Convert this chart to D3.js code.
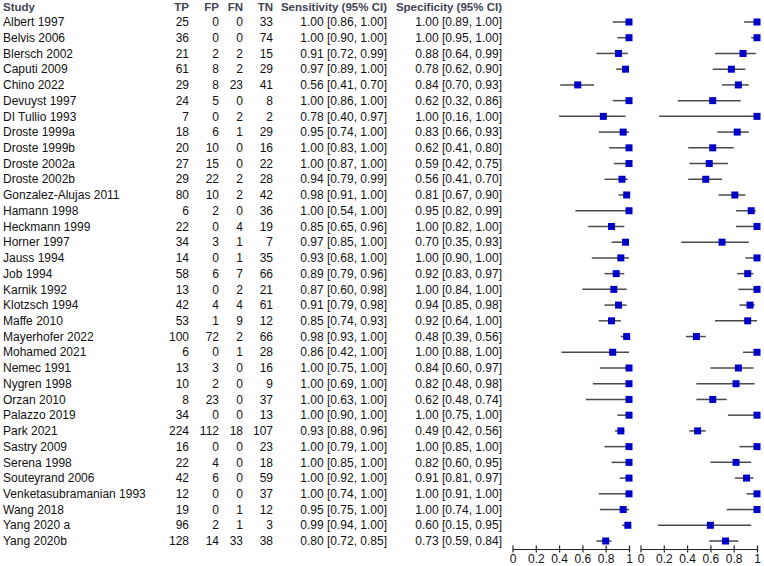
<!DOCTYPE html>
<meta charset="utf-8">
<style>
  html, body { margin: 0; padding: 0; background: #fff; }
  text { font-family: "Liberation Sans", Arial, sans-serif; }
</style>
<body>
<svg id="forest" width="764" height="566"></svg>
<script src="https://cdnjs.cloudflare.com/ajax/libs/d3/7.8.5/d3.min.js"></script>
<script>
  var studies = ["Albert 1997", "Belvis 2006", "Blersch 2002", "Caputi 2009", "Chino 2022",
    "Devuyst 1997", "DI Tullio 1993", "Droste 1999a", "Droste 1999b", "Droste 2002a",
    "Droste 2002b", "Gonzalez-Alujas 2011", "Hamann 1998", "Heckmann 1999", "Horner 1997",
    "Jauss 1994", "Job 1994", "Karnik 1992", "Klotzsch 1994", "Maffe 2010",
    "Mayerhofer 2022", "Mohamed 2021", "Nemec 1991", "Nygren 1998", "Orzan 2010",
    "Palazzo 2019", "Park 2021", "Sastry 2009", "Serena 1998", "Souteyrand 2006",
    "Venketasubramanian 1993", "Wang 2018", "Yang 2020 a", "Yang 2020b"];

  var tp = [25, 36, 21, 61, 29, 24, 7, 18, 20, 27, 29, 80, 6, 22, 34, 14, 58, 13, 42, 53,
    100, 6, 13, 10, 8, 34, 224, 16, 22, 42, 12, 19, 96, 128];
  var fp = [0, 0, 2, 8, 8, 5, 0, 6, 10, 15, 22, 10, 2, 0, 3, 0, 6, 0, 4, 1,
    72, 0, 3, 2, 23, 0, 112, 0, 4, 6, 0, 0, 2, 14];
  var fn = [0, 0, 2, 2, 23, 0, 2, 1, 0, 0, 2, 2, 0, 4, 1, 1, 7, 2, 4, 9,
    2, 1, 0, 0, 0, 0, 18, 0, 0, 0, 0, 1, 1, 33];
  var tn = [33, 74, 15, 29, 41, 8, 2, 29, 16, 22, 28, 42, 36, 19, 7, 35, 66, 21, 61, 12,
    66, 28, 16, 9, 37, 13, 107, 23, 18, 59, 37, 12, 3, 38];

  var sens = [1.00, 1.00, 0.91, 0.97, 0.56, 1.00, 0.78, 0.95, 1.00, 1.00, 0.94, 0.98, 1.00, 0.85,
    0.97, 0.93, 0.89, 0.87, 0.91, 0.85, 0.98, 0.86, 1.00, 1.00, 1.00, 1.00, 0.93, 1.00,
    1.00, 1.00, 1.00, 0.95, 0.99, 0.80];
  var sensLo = [0.86, 0.90, 0.72, 0.89, 0.41, 0.86, 0.40, 0.74, 0.83, 0.87, 0.79, 0.91, 0.54, 0.65,
    0.85, 0.68, 0.79, 0.60, 0.79, 0.74, 0.93, 0.42, 0.75, 0.69, 0.63, 0.90, 0.88, 0.79,
    0.85, 0.92, 0.74, 0.75, 0.94, 0.72];
  var sensHi = [1.00, 1.00, 0.99, 1.00, 0.70, 1.00, 0.97, 1.00, 1.00, 1.00, 0.99, 1.00, 1.00, 0.96,
    1.00, 1.00, 0.96, 0.98, 0.98, 0.93, 1.00, 1.00, 1.00, 1.00, 1.00, 1.00, 0.96, 1.00,
    1.00, 1.00, 1.00, 1.00, 1.00, 0.85];

  var spec = [1.00, 1.00, 0.88, 0.78, 0.84, 0.62, 1.00, 0.83, 0.62, 0.59, 0.56, 0.81, 0.95, 1.00,
    0.70, 1.00, 0.92, 1.00, 0.94, 0.92, 0.48, 1.00, 0.84, 0.82, 0.62, 1.00, 0.49, 1.00,
    0.82, 0.91, 1.00, 1.00, 0.60, 0.73];
  var specLo = [0.89, 0.95, 0.64, 0.62, 0.70, 0.32, 0.16, 0.66, 0.41, 0.42, 0.41, 0.67, 0.82, 0.82,
    0.35, 0.90, 0.83, 0.84, 0.85, 0.64, 0.39, 0.88, 0.60, 0.48, 0.48, 0.75, 0.42, 0.85,
    0.60, 0.81, 0.91, 0.74, 0.15, 0.59];
  var specHi = [1.00, 1.00, 0.99, 0.90, 0.93, 0.86, 1.00, 0.93, 0.80, 0.75, 0.70, 0.90, 0.99, 1.00,
    0.93, 1.00, 0.97, 1.00, 0.98, 1.00, 0.56, 1.00, 0.97, 0.98, 0.74, 1.00, 0.56, 1.00,
    0.95, 0.97, 1.00, 1.00, 0.95, 0.84];

  var ticks = [0, 0.2, 0.4, 0.6, 0.8, 1];

  var svg = d3.select("#forest");
  var headColor = "#3f4452";
  var f2 = d3.format(".2f");

  var y = d3.scalePoint().domain(studies).range([22, 541]);
  var xSens = d3.scaleLinear().domain([0, 1]).range([512.5, 629]);
  var xSpec = d3.scaleLinear().domain([0, 1]).range([640.5, 757]);
  var axisY = 549;

  // table columns
  var cols = [
    {head: "Study", x: 3, anchor: "start", val: function (i) { return studies[i]; }},
    {head: "TP", x: 189, anchor: "end", val: function (i) { return tp[i]; }},
    {head: "FP", x: 219, anchor: "end", val: function (i) { return fp[i]; }},
    {head: "FN", x: 243, anchor: "end", val: function (i) { return fn[i]; }},
    {head: "TN", x: 273, anchor: "end", val: function (i) { return tn[i]; }},
    {head: "Sensitivity (95% CI)", x: 387, anchor: "end",
      val: function (i) { return f2(sens[i]) + " [" + f2(sensLo[i]) + ", " + f2(sensHi[i]) + "]"; }},
    {head: "Specificity (95% CI)", x: 502, anchor: "end",
      val: function (i) { return f2(spec[i]) + " [" + f2(specLo[i]) + ", " + f2(specHi[i]) + "]"; }}
  ];

  cols.forEach(function (c) {
    svg.append("text")
      .attr("x", c.x).attr("y", 7)
      .attr("dy", "0.35em")
      .attr("text-anchor", c.anchor)
      .attr("font-size", 11.5)
      .attr("font-weight", "bold")
      .attr("fill", headColor)
      .text(c.head);

    svg.append("g").selectAll("text")
      .data(studies)
      .enter().append("text")
      .attr("x", c.x)
      .attr("y", function (d) { return y(d); })
      .attr("dy", "0.35em")
      .attr("text-anchor", c.anchor)
      .attr("font-size", 12)
      .attr("fill", "#111")
      .text(function (d, i) { return c.val(i); });
  });

  // plot panels
  function panel(x, est, lo, hi) {
    var g = svg.append("g");
    g.selectAll("line.ci")
      .data(studies)
      .enter().append("line")
      .attr("class", "ci")
      .attr("x1", function (d, i) { return x(lo[i]); })
      .attr("x2", function (d, i) { return x(hi[i]); })
      .attr("y1", function (d) { return y(d); })
      .attr("y2", function (d) { return y(d); })
      .attr("stroke", "#4a4a4a")
      .attr("stroke-width", 1.5);

    g.selectAll("rect")
      .data(studies)
      .enter().append("rect")
      .attr("x", function (d, i) { return x(est[i]) - 3.5; })
      .attr("y", function (d) { return y(d) - 3.5; })
      .attr("width", 7)
      .attr("height", 7)
      .attr("fill", "#0000c8");

    var axis = d3.axisBottom(x)
      .tickValues(ticks)
      .tickSize(3)
      .tickSizeOuter(0)
      .tickFormat(d3.format(""));
    var ag = svg.append("g")
      .attr("transform", "translate(0," + axisY + ")")
      .call(axis);
    ag.select(".domain").attr("stroke", "#222").attr("stroke-width", 1.2);
    ag.selectAll(".tick line")
      .attr("y1", -3.5).attr("y2", 3.5)
      .attr("stroke", "#222").attr("stroke-width", 1.2);
    ag.selectAll(".tick text")
      .attr("y", 5)
      .attr("font-family", "'Liberation Sans', Arial, sans-serif")
      .attr("font-size", 12)
      .attr("fill", "#111");
  }

  panel(xSens, sens, sensLo, sensHi);
  panel(xSpec, spec, specLo, specHi);
</script>
</body>
